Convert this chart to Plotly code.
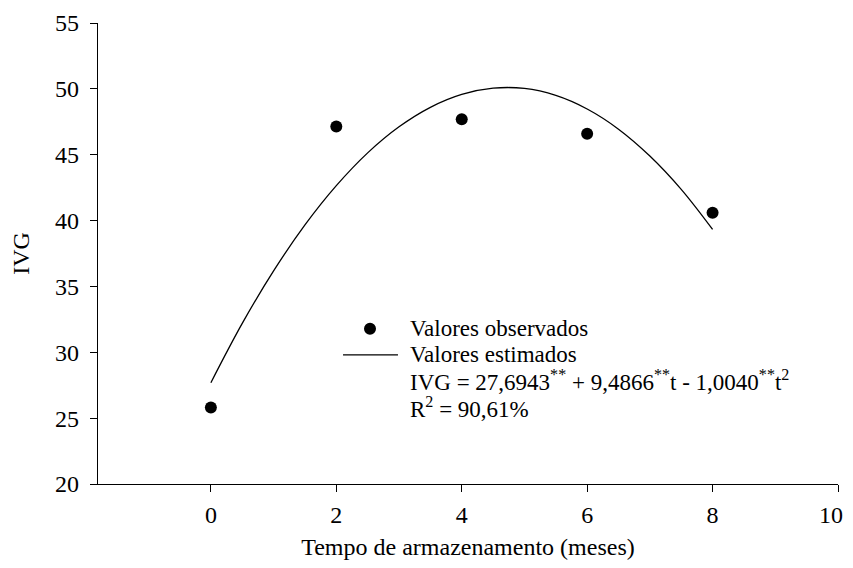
import plotly.graph_objects as go

# Observed data
months = [0, 2, 4, 6, 8]
ivg_observed = [25.8, 47.15, 47.7, 46.6, 40.6]

# Estimated (fitted) curve
t_est = [0, 0.5, 1, 1.5, 2, 2.5, 3, 3.5, 4, 4.5, 5, 5.5, 6, 6.5, 7, 7.5, 8]
ivg_est = [27.69, 32.19, 36.18, 39.67, 42.65, 45.14, 47.12, 48.60, 49.58,
           50.05, 50.03, 49.50, 48.47, 46.94, 44.90, 42.37, 39.33]

x_ticks = [0, 2, 4, 6, 8, 10]
x_tick_labels = ["0", "2", "4", "6", "8", "10"]
y_ticks = [20, 25, 30, 35, 40, 45, 50, 55]

legend_observed = "Valores observados"
legend_estimated = "Valores estimados"
equation_text = "IVG = 27,6943<sup>**</sup> + 9,4866<sup>**</sup>t - 1,0040<sup>**</sup>t<sup>2</sup>"
r2_text = "R<sup>2</sup> = 90,61%"

FONT = "Liberation Serif"
FS = 24
FS_LEG = 23

# page body has an 8px margin; plot area target in page pixels
OFF = 8
W, H = 853 - OFF, 568 - 2 * OFF
px0, px1 = 97.7 - OFF, 838.5 - OFF
py0, py1 = 22.5 - OFF, 484.5 - OFF

fig = go.Figure()
fig.add_trace(go.Scatter(x=t_est, y=ivg_est, mode="lines", line=dict(color="black", width=1.3, shape="spline"),
                         showlegend=False, hoverinfo="skip"))
fig.add_trace(go.Scatter(x=months, y=ivg_observed, mode="markers",
                         marker=dict(color="black", size=12), showlegend=False))

def xp(px):
    return (px - OFF - px0) / (px1 - px0)
def yp(py):
    return (py1 - (py - OFF)) / (py1 - py0)

rows = [329, 355, 381, 408]
texts = [legend_observed, legend_estimated, equation_text, r2_text]
for r, t in zip(rows, texts):
    fig.add_annotation(x=xp(408), y=yp(r), xref="paper", yref="paper", text=t, showarrow=False,
                       xanchor="left", yanchor="middle", font=dict(family=FONT, size=FS_LEG, color="black"))

fig.add_shape(type="circle", xref="paper", yref="paper", xsizemode="pixel", ysizemode="pixel",
              xanchor=xp(370), yanchor=yp(rows[0]), x0=-6, x1=6, y0=-6, y1=6,
              fillcolor="black", line=dict(color="black", width=0))
fig.add_shape(type="line", xref="paper", yref="paper", x0=xp(343), x1=xp(398), y0=yp(rows[1]), y1=yp(rows[1]),
              line=dict(color="black", width=1.3))

# last x tick label sits at the page edge: draw it right-aligned so it stays visible
fig.add_annotation(x=xp(846), y=yp(516), xref="paper", yref="paper", text=x_tick_labels[-1], showarrow=False,
                   xanchor="right", yanchor="middle", font=dict(family=FONT, size=FS, color="black"))

fig.update_layout(
    width=W, height=H,
    margin=dict(l=px0, r=W - px1, t=py0, b=H - py1, autoexpand=False),
    paper_bgcolor="white", plot_bgcolor="white",
    font=dict(family=FONT, size=FS, color="black"),
)
fig.update_xaxes(range=[-1.8, 10], tickvals=x_ticks, ticktext=x_tick_labels[:-1] + [""],
                 ticks="outside", ticklen=7, tickwidth=1.3, tickcolor="black",
                 showline=True, linecolor="black", linewidth=1.3, showgrid=False, zeroline=False,
                 title=dict(text="Tempo de armazenamento (meses)", standoff=16, font=dict(family=FONT, size=FS)),
                 tickfont=dict(family=FONT, size=FS), automargin=False, ticklabelstandoff=2)
fig.update_yaxes(range=[20, 55], tickvals=y_ticks, ticks="outside", ticklen=7, tickwidth=1.3, tickcolor="black",
                 showline=True, linecolor="black", linewidth=1.3, showgrid=False, zeroline=False,
                 title=dict(text="IVG", standoff=20, font=dict(family=FONT, size=FS)),
                 tickfont=dict(family=FONT, size=FS), automargin=False, ticklabelstandoff=6)

fig.write_html("out.html")
